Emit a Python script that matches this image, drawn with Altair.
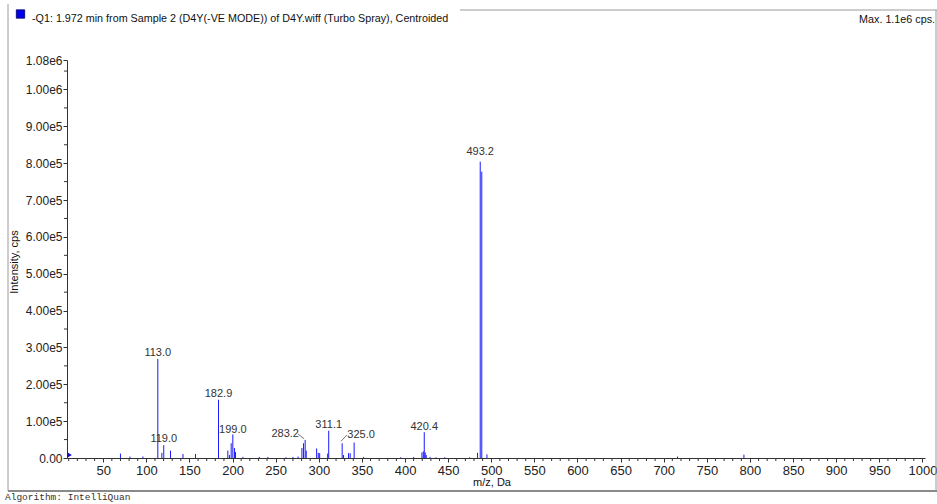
import altair as alt
import pandas as pd

# ---- data ----
peak_mz = [70, 81, 96, 113.3, 118, 120.2, 128, 142.5, 157, 183.7,
           194.5, 196.4, 198.4, 200.3, 202.2, 203.4, 212, 231, 241, 262,
           270, 276, 280.4, 282.3, 284.2, 285.4, 297.5, 299.4, 301, 310.3,
           311.5, 327.1, 328.7, 334.5, 336.4, 341, 352, 395, 410, 419.6,
           421.2, 422.3, 423.4, 424.6, 429, 436, 446, 475, 484.1, 487.2,
           489.0, 495.0, 716, 793]
peak_int = [1.2e4, 0.4e4, 0.4e4, 2.69e5, 1.4e4, 3.5e4, 2.0e4, 1.1e4, 1.1e4, 1.58e5,
            2.0e4, 0.8e4, 4.0e4, 6.4e4, 2.7e4, 1.6e4, 0.3e4, 0.3e4, 0.3e4, 0.2e4,
            0.3e4, 0.4e4, 2.7e4, 4.0e4, 4.9e4, 2.0e4, 2.6e4, 1.4e4, 1.3e4, 1.2e4,
            7.4e4, 4.0e4, 0.8e4, 1.3e4, 1.3e4, 4.2e4, 0.3e4, 0.2e4, 0.3e4, 1.5e4,
            1.8e4, 7.0e4, 1.5e4, 0.8e4, 0.3e4, 0.2e4, 0.2e4, 0.2e4, 1.4e4, 8.04e5,
            7.77e5, 1.0e4, 0.4e4, 0.9e4]

label_text = ["113.0", "119.0", "182.9", "199.0", "283.2", "311.1", "325.0", "420.4", "493.2"]
label_mz = [113.3, 120.2, 183.7, 200.3, 261.0, 311.5, 349.0, 422.3, 487.2]
label_int = [2.69e5, 3.5e4, 1.58e5, 6.1e4, 4.9e4, 7.4e4, 4.5e4, 6.7e4, 8.13e5]

leader_mz = [276.0, 325.6]
leader_int = [6.5e4, 4.5e4]
leader_mz2 = [283.0, 332.6]
leader_int2 = [5.2e4, 6.25e4]

x_ticks = list(range(50, 1001, 50))
x_minor = [v for v in range(10, 1001, 10) if v % 50 != 0]
y_ticks = [0, 1e5, 2e5, 3e5, 4e5, 5e5, 6e5, 7e5, 8e5, 9e5, 1e6, 1.08e6]
y_minor = [5e4, 1.5e5, 2.5e5, 3.5e5, 4.5e5, 5.5e5, 6.5e5, 7.5e5, 8.5e5, 9.5e5, 1.05e6]

W, H = 858, 398
FONT = "Liberation Sans, Arial, sans-serif"
NARROW = "Liberation Sans Narrow, Liberation Sans, Arial, sans-serif"
AXC = "#333333"

xs = alt.Scale(domain=[8, 1003], nice=False, zero=False)
ys = alt.Scale(domain=[0, 1.08e6], nice=False, zero=True)

peaks_df = pd.DataFrame({"mz": peak_mz, "intensity": peak_int})
labels_df = pd.DataFrame({"mz": label_mz, "val": label_int, "text": label_text})
leader_df = pd.DataFrame({"mz": leader_mz, "val": leader_int, "mz2": leader_mz2, "val2": leader_int2})

xaxis = alt.Axis(values=x_ticks, title=None, grid=False, labelFont=NARROW, labelFontSize=13,
                 labelColor="#222", tickSize=4, tickColor=AXC, domainColor=AXC,
                 labelPadding=2, labelFlush=False, format="d")
yaxis = alt.Axis(values=y_ticks, title=None, grid=False, labelFont=FONT, labelFontSize=12,
                 labelColor="#222", tickSize=4, tickColor=AXC, domainColor=AXC,
                 labelPadding=1, labelFlush=False,
                 labelExpr="datum.value == 0 ? '0.00' : replace(format(datum.value, '.2e'), '+', '')")

peaks = alt.Chart(peaks_df).mark_rule(color="#1a1aff", strokeWidth=1).encode(
    x=alt.X("mz:Q", scale=xs, axis=xaxis),
    y=alt.Y("intensity:Q", scale=ys, axis=yaxis),
    y2=alt.datum(0),
)

labels = alt.Chart(labels_df).mark_text(font=FONT, fontSize=11, color="#333",
                                        baseline="alphabetic", align="center", dy=-3).encode(
    x=alt.X("mz:Q", scale=xs, axis=xaxis),
    y=alt.Y("val:Q", scale=ys, axis=yaxis),
    text="text:N",
)

leaders = alt.Chart(leader_df).mark_rule(color="#555", strokeWidth=0.8).encode(
    x=alt.X("mz:Q", scale=xs, axis=xaxis),
    y=alt.Y("val:Q", scale=ys, axis=yaxis),
    x2="mz2:Q",
    y2="val2:Q",
)

xminor = alt.Chart(pd.DataFrame({"v": x_minor})).mark_rule(color=AXC, strokeWidth=1).encode(
    x=alt.X("v:Q", scale=xs, axis=xaxis),
    y=alt.value(H), y2=alt.value(H + 3),
)
yminor = alt.Chart(pd.DataFrame({"v": y_minor})).mark_rule(color=AXC, strokeWidth=1).encode(
    y=alt.Y("v:Q", scale=ys, axis=yaxis),
    x=alt.value(-3), x2=alt.value(0),
)

one = alt.Data(values=[{"a": 1}])

def txt(t, x, y, align="left", size=11, font=FONT, angle=0, color="#111"):
    kw = dict(text=t, align=align, baseline="middle", fontSize=size, font=font, color=color)
    if angle:
        kw["angle"] = angle
    return alt.Chart(one).mark_text(**kw).encode(x=alt.value(x), y=alt.value(y))

def hline(x1, x2, y, color="#9a9a9a", w=1):
    return alt.Chart(one).mark_rule(color=color, strokeWidth=w).encode(
        x=alt.value(x1), x2=alt.value(x2), y=alt.value(y))

def vline(x, y1, y2, color="#9a9a9a", w=1):
    return alt.Chart(one).mark_rule(color=color, strokeWidth=w).encode(
        x=alt.value(x), y=alt.value(y1), y2=alt.value(y2))

title_t = txt("-Q1: 1.972 min from Sample 2 (D4Y(-VE MODE)) of D4Y.wiff (Turbo Spray), Centroided",
              -35, -41, size=10.75)
max_t = txt("Max. 1.1e6 cps.", 868, -40, align="right", size=10.75)
ytitle = txt("Intensity, cps", -52, 202, align="center", angle=270)
xtitle = txt("m/z, Da", 425, 423, align="center")
algo = txt("Algorithm: IntelliQuan", -62, 437, size=9.5, font="Liberation Mono, DejaVu Sans Mono, monospace", color="#333")

square = alt.Chart(one).mark_square(size=70, color="#0000ee", stroke="#000066", strokeWidth=0.8,
                                    opacity=1).encode(x=alt.value(-46.5), y=alt.value(-46))
tri = alt.Chart(one).mark_point(shape="triangle-right", filled=True, color="#1010cc", size=30,
                                opacity=1).encode(x=alt.value(2.5), y=alt.value(H - 3))

frame = [
    vline(-59, -56, 431),
    vline(869, -50, 431),
    hline(393, 870, -50),
    hline(-59, 870, 431, color="#8a8a8a", w=2),
]

chart = alt.layer(
    peaks, xminor, yminor, leaders, labels, *frame, tri,
    title_t, max_t, ytitle, xtitle, algo, square,
).properties(
    width=W, height=H,
    padding={"left": 67, "top": 60, "right": 12, "bottom": 46},
    autosize=alt.AutoSizeParams(type="none"),
    background="white",
).configure_view(stroke=None)

chart.save("out.html", embed_options={"renderer": "svg", "actions": False})
